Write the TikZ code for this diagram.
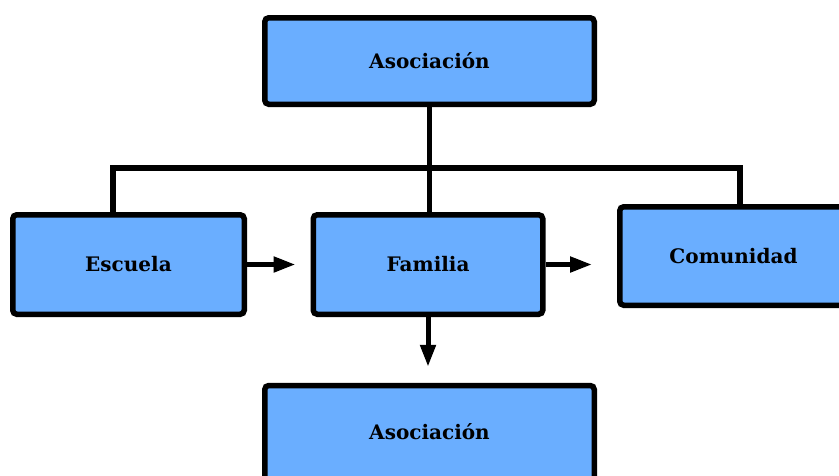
\documentclass[tikz,border=0pt]{standalone}
\usepackage{fontspec}
\setmainfont{DejaVu Serif}
\usetikzlibrary{arrows.meta}
\definecolor{boxblue}{RGB}{106,174,255}
\begin{document}
\begin{tikzpicture}[x=1pt,y=-1pt,
  box/.style={draw=black, fill=boxblue, line width=5.5pt, rounded corners=4pt,
    inner sep=0pt, font=\bfseries\fontsize{20}{24}\selectfont},
  conn/.style={line width=5.5pt, line join=miter},
  arr/.style={line width=5pt, -{Triangle[length=22pt,width=15pt]}}]
\useasboundingbox (0,0) rectangle (839,475);
\node[box, minimum width=329.5pt, minimum height=86.5pt] (top) at (429.5,61) {Asociación};
\node[box, minimum width=231.5pt, minimum height=99.5pt] (esc) at (128.5,264.5) {Escuela};
\node[box, minimum width=229.5pt, minimum height=99.5pt] (fam) at (428,264.5) {Familia};
\node[box, minimum width=227.5pt, minimum height=98.5pt] (com) at (733.5,256) {Comunidad};
\node[box, minimum width=329.5pt, minimum height=96pt] (bot) at (429.5,433.5) {\raisebox{3.5pt}{Asociación}};
\coordinate (hl) at (113,168);
\coordinate (hr) at (740,168);
\draw[conn] (top.south) -- (top.south |- fam.north);
\draw[conn] (esc.north -| hl) -- (hl) -- (hr) -- (hr |- com.north);
\draw[arr, shorten >=15pt] (esc.east) -- (fam.west);
\draw[arr, shorten >=25pt] (fam.east) -- (fam.east -| com.west);
\draw[arr, shorten >=16pt] (fam.south) -- (fam.south |- bot.north);
\end{tikzpicture}
\end{document}
